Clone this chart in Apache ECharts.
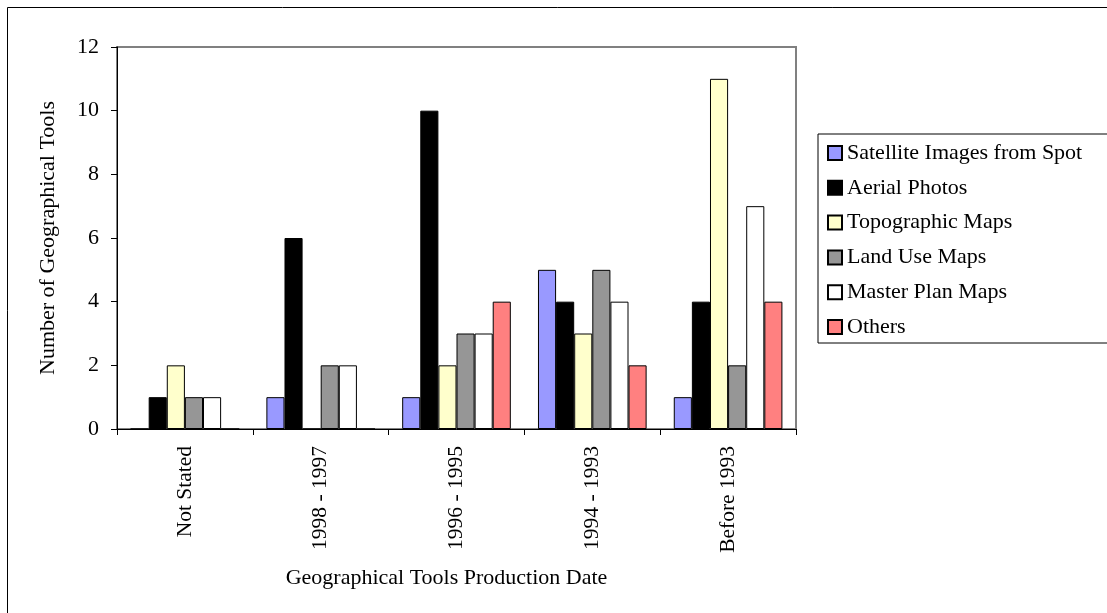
<!DOCTYPE html>
<html>
<head>
<meta charset="utf-8">
<script src="https://cdn.jsdelivr.net/npm/echarts@6/dist/echarts.min.js"></script>
<style>
html,body{margin:0;padding:0;background:#fff;}
#c{width:1107px;height:613px;}
</style>
</head>
<body>
<div id="c"></div>
<script>
var categories = ['Not Stated', '1998 - 1997', '1996 - 1995', '1994 - 1993', 'Before 1993'];
var satellite = [0, 1, 1, 5, 1];
var aerial = [1, 6, 10, 4, 4];
var topographic = [2, 0, 2, 3, 11];
var landUse = [1, 2, 3, 5, 2];
var masterPlan = [1, 2, 3, 4, 7];
var others = [0, 0, 4, 2, 4];
var seriesNames = ['Satellite Images from Spot', 'Aerial Photos', 'Topographic Maps', 'Land Use Maps', 'Master Plan Maps', 'Others'];
var seriesColors = ['#9999FF', '#000000', '#FFFFCC', '#969696', '#FFFFFF', '#FF8080'];
var seriesData = [satellite, aerial, topographic, landUse, masterPlan, others];

var font = 'Liberation Serif';
var chart = echarts.init(document.getElementById('c'));
chart.setOption({
  animation: false,
  backgroundColor: '#fff',
  textStyle: {fontFamily: font, color: '#000'},
  graphic: [
    {type: 'line', shape: {x1: 7.5, y1: 7.5, x2: 1107, y2: 7.5}, style: {stroke: '#000', lineWidth: 1}},
    {type: 'line', shape: {x1: 7.5, y1: 7.5, x2: 7.5, y2: 613}, style: {stroke: '#000', lineWidth: 1}}
  ],
  grid: {left: 117, right: 311, top: 47, bottom: 184, show: true, borderColor: '#808080', borderWidth: 2, backgroundColor: 'transparent'},
  legend: {
    orient: 'vertical', left: 818, top: 134,
    itemWidth: 14, itemHeight: 14, itemGap: 12.8,
    icon: 'rect',
    borderColor: '#000', borderWidth: 1,
    padding: [8, 30, 5, 9],
    textStyle: {fontFamily: font, fontSize: 22, color: '#000'},
    data: seriesNames
  },
  xAxis: {
    type: 'category', data: categories,
    name: 'Geographical Tools Production Date', nameLocation: 'middle', nameGap: 138,
    nameTextStyle: {fontFamily: font, fontSize: 22, color: '#000', padding: [0, 20, 0, 0]},
    axisLine: {lineStyle: {color: '#000', width: 1}},
    axisTick: {show: true, length: 6, lineStyle: {color: '#000'}},
    axisLabel: {rotate: 90, interval: 0, margin: 17, fontFamily: font, fontSize: 21.5, color: '#000'}
  },
  yAxis: {
    type: 'value', min: 0, max: 12, interval: 2,
    name: 'Number of Geographical Tools', nameLocation: 'middle', nameGap: 58, nameRotate: 90,
    nameTextStyle: {fontFamily: font, fontSize: 22, color: '#000'},
    axisLine: {show: true, lineStyle: {color: '#000', width: 1}},
    axisTick: {show: true, length: 6, lineStyle: {color: '#000'}},
    splitLine: {show: false},
    axisLabel: {margin: 18, fontFamily: font, fontSize: 22, color: '#000'}
  },
  series: seriesNames.map(function (n, i) {
    return {
      name: n, type: 'bar', data: seriesData[i],
      barGap: '0%', barCategoryGap: '20%',
      itemStyle: {color: seriesColors[i], borderColor: '#000', borderWidth: 1}
    };
  })
});
</script>
</body>
</html>
